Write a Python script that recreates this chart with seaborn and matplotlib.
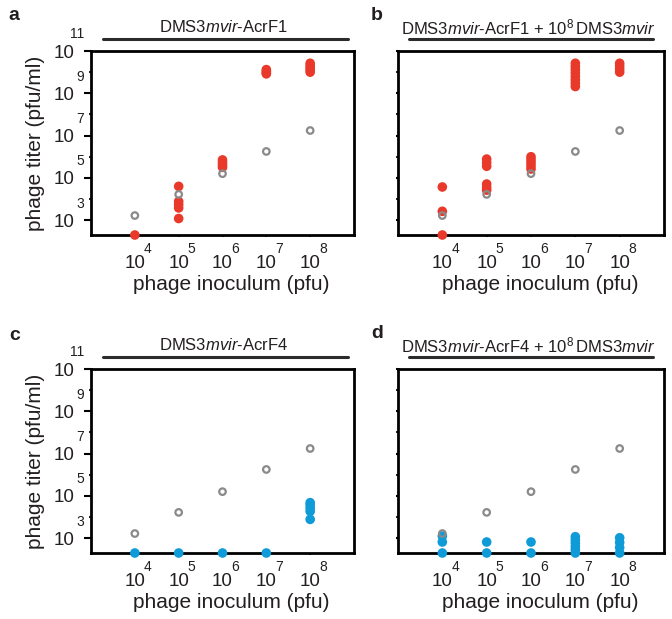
import pandas as pd
import matplotlib.pyplot as plt
import seaborn as sns

sns.set_style("white")
plt.rcParams['font.family'] = ['Liberation Sans', 'DejaVu Sans']
plt.rcParams['mathtext.fontset'] = 'custom'
plt.rcParams['mathtext.rm'] = 'Liberation Sans'
plt.rcParams['mathtext.it'] = 'Liberation Sans:italic'

# all titers as log10(pfu/ml); LOD = below detection, drawn on the x axis
LOD = 2.3
inoculum_exp = [4, 5, 6, 7, 8]
control_titer = [3.22, 4.22, 5.2, 6.25, 7.24]  # gray open circles

acrf1_x = [4, 5, 5, 5, 5, 5, 6, 6, 6, 6, 7, 7, 7, 7, 8, 8, 8, 8, 8]
acrf1_y = [LOD, 4.60, 3.89, 3.74, 3.58, 3.08, 5.85, 5.72, 5.6, 5.5,
           10.12, 10.04, 9.97, 9.92, 10.42, 10.3, 10.2, 10.1, 10.0]

acrf1_mvir_x = [4, 4, 4, 5, 5, 5, 5, 5, 5, 6, 6, 6, 6, 6,
                7, 7, 7, 7, 7, 7, 7, 7, 8, 8, 8, 8]
acrf1_mvir_y = [4.57, 3.42, LOD, 5.89, 5.72, 5.55, 4.71, 4.55, 4.42,
                6.0, 5.86, 5.72, 5.57, 5.42,
                10.42, 10.27, 10.12, 9.96, 9.8, 9.64, 9.48, 9.32,
                10.42, 10.28, 10.14, 10.0]

acrf4_x = [4, 5, 6, 7, 8, 8, 8, 8, 8]
acrf4_y = [LOD, LOD, LOD, LOD, 4.68, 4.57, 4.42, 4.27, 3.89]

acrf4_mvir_x = [4, 4, 4, 5, 5, 6, 6, 7, 7, 7, 7, 7, 7, 8, 8, 8, 8]
acrf4_mvir_y = [3.1, 2.82, LOD, 2.82, LOD, 2.82, LOD,
                3.07, 2.92, 2.77, 2.6, 2.45, LOD, 3.02, 2.8, 2.56, LOD]

titles = [r"DMS3$\mathit{mvir}$-AcrF1",
          r"DMS3$\mathit{mvir}$-AcrF1 + 10$^{8}\,$DMS3$\mathit{mvir}$",
          r"DMS3$\mathit{mvir}$-AcrF4",
          r"DMS3$\mathit{mvir}$-AcrF4 + 10$^{8}\,$DMS3$\mathit{mvir}$"]
letters = ["a", "b", "c", "d"]

RED = "#e8392a"
BLUE = "#0f9ad8"
GRAY = "#8a8a8a"

W, H = 672, 619
fig = plt.figure(figsize=(W / 100, H / 100), dpi=100)

# pixel boxes (left, right, top, bottom)
boxes = [(91, 354, 51, 235), (398, 664, 51, 235),
         (91, 354, 369, 553), (398, 664, 369, 553)]
panels = [(acrf1_x, acrf1_y, RED), (acrf1_mvir_x, acrf1_mvir_y, RED),
          (acrf4_x, acrf4_y, BLUE), (acrf4_mvir_x, acrf4_mvir_y, BLUE)]

for i, ((l, r, t, b), (xs, ys, col)) in enumerate(zip(boxes, panels)):
    ax = fig.add_axes([l / W, 1 - b / H, (r - l) / W, (b - t) / H])
    df = pd.DataFrame({"inoc": [10.0 ** v for v in xs], "titer": [10.0 ** v for v in ys]})
    ctrl = pd.DataFrame({"inoc": [10.0 ** v for v in inoculum_exp],
                         "titer": [10.0 ** v for v in control_titer]})
    sns.scatterplot(data=df, x="inoc", y="titer", ax=ax, color=col, s=48,
                    edgecolor="none", clip_on=False, zorder=3)
    sns.scatterplot(data=ctrl, x="inoc", y="titer", ax=ax, color=GRAY, s=22,
                    facecolor="none", edgecolor=GRAY, linewidth=1.6,
                    clip_on=False, zorder=4)
    ax.set_xscale("log")
    ax.set_yscale("log")
    ax.set_xlim(10 ** 3, 10 ** 9)
    ax.set_ylim(10 ** LOD, 10 ** 11)

    ax.set_xticks([10.0 ** k for k in inoculum_exp], minor=False)
    ax.set_xticks([], minor=True)
    ax.set_xticklabels(["10"] * len(inoculum_exp))
    ax.tick_params(axis="x", which="major", direction="out", length=1.5, width=1.5,
                   pad=13, labelsize=13.5, bottom=True)
    for k in inoculum_exp:
        ax.annotate(str(k), xy=(10.0 ** k, 0), xycoords=ax.get_xaxis_transform(),
                    xytext=(6.5, -10), textcoords="offset points",
                    ha="left", va="center", fontsize=10, color="#231f20")

    odd = [3, 5, 7, 9, 11]
    even = [4, 6, 8, 10]
    ax.set_yticks([10.0 ** k for k in odd], minor=False)
    ax.set_yticks([10.0 ** k for k in even], minor=True)
    ax.yaxis.set_minor_formatter(plt.NullFormatter())
    if i % 2 == 0:
        ax.set_yticklabels(["10"] * len(odd))
        ax.tick_params(axis="y", which="major", direction="out", length=5, width=1.5,
                       pad=7, labelsize=13.5, left=True)
        ax.tick_params(axis="y", which="minor", direction="out", length=1.5, width=1.5,
                       left=True)
        for k in odd:
            ax.annotate(str(k), xy=(0, 10.0 ** k), xycoords=ax.get_yaxis_transform(),
                        xytext=(-5, 12), textcoords="offset points",
                        ha="right", va="center", fontsize=10, color="#231f20")
        ax.set_ylabel("phage titer (pfu/ml)", fontsize=15, color="#231f20")
        ax.yaxis.set_label_coords(-0.176, 0.5)
    else:
        ax.set_yticklabels([])
        ax.tick_params(axis="y", which="both", direction="out", length=1.5, width=1.5,
                       left=True)
        ax.set_ylabel("")

    ax.set_xlabel("phage inoculum (pfu)", fontsize=15, color="#231f20")
    ax.xaxis.set_label_coords(0.535, -0.215)
    ax.tick_params(colors="black", labelcolor="#231f20")

    for sp in ax.spines.values():
        sp.set_linewidth(2)
        sp.set_color("black")

    if i % 2 == 0:
        x0, x1, tx = 0.046, 0.977, 0.504
    else:
        x0, x1, tx = 0.041, 0.959, 0.49
    ax.plot([x0, x1], [1.065, 1.065], transform=ax.transAxes, clip_on=False,
            color="#2b2b2b", lw=2.2)
    ax.text(tx, 1.128, titles[i], transform=ax.transAxes, ha="center",
            va="center", fontsize=12, color="#231f20")

letter_pos = [(14, 16), (377, 15), (15, 335), (377, 334)]
for lt, (px, py) in zip(letters, letter_pos):
    fig.text(px / W, 1 - py / H, lt, ha="center", va="center", fontsize=14,
             fontweight="bold", color="#231f20")

fig.savefig("out.png", dpi=100)
